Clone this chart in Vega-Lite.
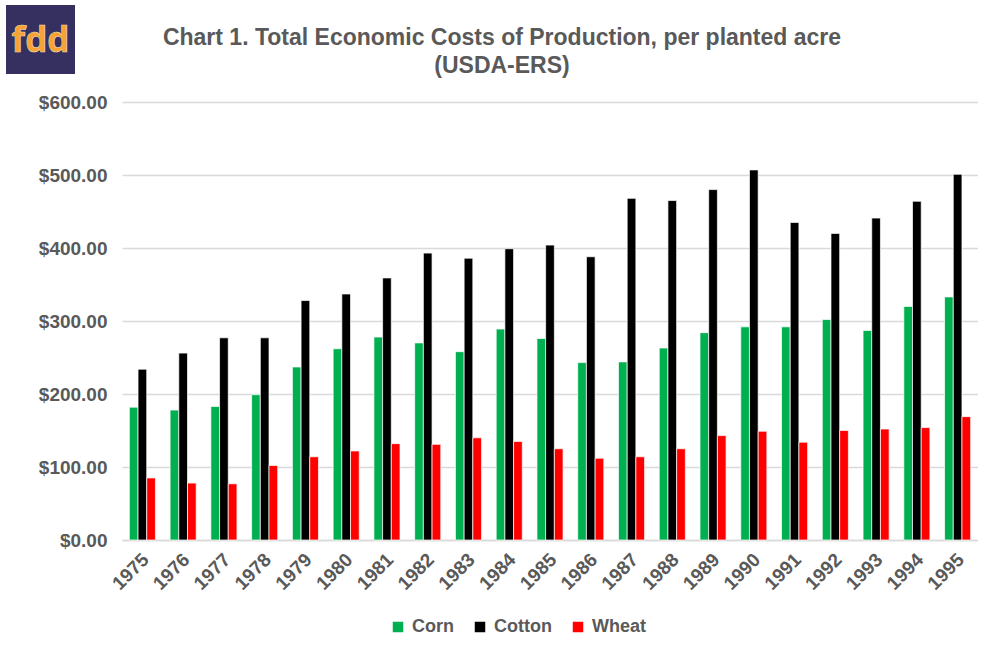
{
  "$schema": "https://vega.github.io/schema/vega-lite/v6.json",
  "padding": {"left": 6, "top": -1, "right": 0, "bottom": 0},
  "background": "white",
  "config": {
    "font": "Liberation Sans",
    "view": {"stroke": null}
  },
  "columns": 2,
  "bounds": "flush",
  "spacing": {"column": 47, "row": 28},
  "resolve": {"scale": {"color": "independent"}, "legend": {"color": "independent"}},
  "concat": [
    {
      "width": 69,
      "height": 69,
      "view": {"fill": "#35305f", "stroke": null},
      "data": {"values": [{"logo": "fdd"}]},
      "mark": {"type": "text", "font": "Open Sans", "fontWeight": "bold", "fontSize": 35, "color": "#f7a234", "stroke": "#f3d9b0", "strokeWidth": 0.6, "dy": 1},
      "encoding": {"text": {"field": "logo"}}
    },
    {
      "width": 1,
      "height": 1,
      "data": {"values": [{"t": ""}]},
      "mark": {"type": "text"},
      "encoding": {"text": {"field": "t"}}
    },
    {
      "width": 1,
      "height": 1,
      "data": {"values": [{"t": ""}]},
      "mark": {"type": "text"},
      "encoding": {"text": {"field": "t"}}
    },
    {
      "width": 856,
      "height": 438,
      "title": {
        "text": ["Chart 1. Total Economic Costs of Production, per planted acre", "(USDA-ERS)"],
        "fontSize": 23,
        "fontWeight": "bold",
        "color": "#595959",
        "anchor": "middle",
        "dx": -48,
        "lineHeight": 28,
        "offset": 15
      },
      "data": {"values": [
        {"year": "1975", "crop": "Corn", "cost": 182}, {"year": "1975", "crop": "Cotton", "cost": 234}, {"year": "1975", "crop": "Wheat", "cost": 85},
        {"year": "1976", "crop": "Corn", "cost": 178}, {"year": "1976", "crop": "Cotton", "cost": 256}, {"year": "1976", "crop": "Wheat", "cost": 78},
        {"year": "1977", "crop": "Corn", "cost": 183}, {"year": "1977", "crop": "Cotton", "cost": 277}, {"year": "1977", "crop": "Wheat", "cost": 77},
        {"year": "1978", "crop": "Corn", "cost": 199}, {"year": "1978", "crop": "Cotton", "cost": 277}, {"year": "1978", "crop": "Wheat", "cost": 102},
        {"year": "1979", "crop": "Corn", "cost": 237}, {"year": "1979", "crop": "Cotton", "cost": 328}, {"year": "1979", "crop": "Wheat", "cost": 114},
        {"year": "1980", "crop": "Corn", "cost": 262}, {"year": "1980", "crop": "Cotton", "cost": 337}, {"year": "1980", "crop": "Wheat", "cost": 122},
        {"year": "1981", "crop": "Corn", "cost": 278}, {"year": "1981", "crop": "Cotton", "cost": 359}, {"year": "1981", "crop": "Wheat", "cost": 132},
        {"year": "1982", "crop": "Corn", "cost": 270}, {"year": "1982", "crop": "Cotton", "cost": 393}, {"year": "1982", "crop": "Wheat", "cost": 131},
        {"year": "1983", "crop": "Corn", "cost": 258}, {"year": "1983", "crop": "Cotton", "cost": 386}, {"year": "1983", "crop": "Wheat", "cost": 140},
        {"year": "1984", "crop": "Corn", "cost": 289}, {"year": "1984", "crop": "Cotton", "cost": 399}, {"year": "1984", "crop": "Wheat", "cost": 135},
        {"year": "1985", "crop": "Corn", "cost": 276}, {"year": "1985", "crop": "Cotton", "cost": 404}, {"year": "1985", "crop": "Wheat", "cost": 125},
        {"year": "1986", "crop": "Corn", "cost": 243}, {"year": "1986", "crop": "Cotton", "cost": 388}, {"year": "1986", "crop": "Wheat", "cost": 112},
        {"year": "1987", "crop": "Corn", "cost": 244}, {"year": "1987", "crop": "Cotton", "cost": 468}, {"year": "1987", "crop": "Wheat", "cost": 114},
        {"year": "1988", "crop": "Corn", "cost": 263}, {"year": "1988", "crop": "Cotton", "cost": 465}, {"year": "1988", "crop": "Wheat", "cost": 125},
        {"year": "1989", "crop": "Corn", "cost": 284}, {"year": "1989", "crop": "Cotton", "cost": 480}, {"year": "1989", "crop": "Wheat", "cost": 143},
        {"year": "1990", "crop": "Corn", "cost": 292}, {"year": "1990", "crop": "Cotton", "cost": 507}, {"year": "1990", "crop": "Wheat", "cost": 149},
        {"year": "1991", "crop": "Corn", "cost": 292}, {"year": "1991", "crop": "Cotton", "cost": 435}, {"year": "1991", "crop": "Wheat", "cost": 134},
        {"year": "1992", "crop": "Corn", "cost": 302}, {"year": "1992", "crop": "Cotton", "cost": 420}, {"year": "1992", "crop": "Wheat", "cost": 150},
        {"year": "1993", "crop": "Corn", "cost": 287}, {"year": "1993", "crop": "Cotton", "cost": 441}, {"year": "1993", "crop": "Wheat", "cost": 152},
        {"year": "1994", "crop": "Corn", "cost": 320}, {"year": "1994", "crop": "Cotton", "cost": 464}, {"year": "1994", "crop": "Wheat", "cost": 154},
        {"year": "1995", "crop": "Corn", "cost": 333}, {"year": "1995", "crop": "Cotton", "cost": 501}, {"year": "1995", "crop": "Wheat", "cost": 169}
      ]},
      "mark": {"type": "bar", "stroke": "white", "strokeWidth": 0.7},
      "encoding": {
        "x": {
          "field": "year", "type": "nominal", "title": null,
          "scale": {"paddingInner": 0.36, "paddingOuter": 0.18},
          "axis": {
            "labelAngle": -45, "labelFontSize": 19, "labelFontWeight": "bold", "labelColor": "#595959",
            "ticks": false, "domainColor": "#d9d9d9", "domainWidth": 1.5, "labelPadding": 10, "labelOffset": -3
          }
        },
        "xOffset": {"field": "crop", "type": "nominal", "scale": {"paddingInner": 0}},
        "y": {
          "field": "cost", "type": "quantitative", "title": null,
          "scale": {"domain": [0, 600]},
          "axis": {
            "values": [0, 100, 200, 300, 400, 500, 600], "format": "$,.2f",
            "labelFontSize": 19, "labelFontWeight": "bold", "labelColor": "#595959",
            "ticks": false, "domain": false, "labelPadding": 15,
            "gridColor": "#d9d9d9", "gridWidth": 1.5
          }
        },
        "color": {
          "field": "crop", "type": "nominal",
          "scale": {"domain": ["Corn", "Cotton", "Wheat"], "range": ["#00b050", "#000000", "#ff0000"]},
          "legend": {
            "title": null, "orient": "none", "direction": "horizontal",
            "legendX": 267, "legendY": 516, "padding": 0,
            "symbolType": "square", "symbolSize": 110, "symbolStrokeWidth": 0,
            "labelFontSize": 18, "labelFontWeight": "bold", "labelColor": "#595959",
            "labelOffset": 5, "columnPadding": 17
          }
        }
      }
    }
  ]
}
